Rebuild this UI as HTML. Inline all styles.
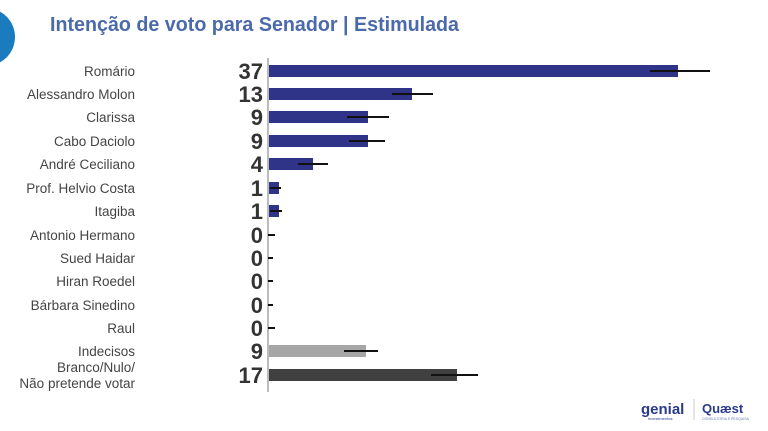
<!DOCTYPE html>
<html><head><meta charset="utf-8"><style>
body{margin:0;background:#fff;width:768px;height:431px;overflow:hidden}
svg{display:block;font-family:"Liberation Sans",sans-serif}
.l{font-size:13.5px;fill:#444;text-anchor:end}
.n{font-size:22px;font-weight:bold;fill:#333;text-anchor:end}
</style></head><body>
<svg width="768" height="431" viewBox="0 0 768 431">
<circle cx="-14" cy="37" r="29" fill="#1a7bbf"/>
<text x="50" y="31" font-size="20" font-weight="bold" fill="#4a6aab" textLength="409" lengthAdjust="spacingAndGlyphs">Intenção de voto para Senador | Estimulada</text>
<line x1="268" y1="58" x2="268" y2="392" stroke="#bbb" stroke-width="2"/>
<g class="l">
<text x="135" y="76">Romário</text>
<text x="135" y="99">Alessandro Molon</text>
<text x="135" y="122">Clarissa</text>
<text x="135" y="146">Cabo Daciolo</text>
<text x="135" y="169">André Ceciliano</text>
<text x="135" y="193">Prof. Helvio Costa</text>
<text x="135" y="216">Itagiba</text>
<text x="135" y="240">Antonio Hermano</text>
<text x="135" y="263">Sued Haidar</text>
<text x="135" y="286">Hiran Roedel</text>
<text x="135" y="310">Bárbara Sinedino</text>
<text x="135" y="333">Raul</text>
<text x="135" y="356">Indecisos</text>
<text x="135" y="372">Branco/Nulo/</text>
<text x="135" y="388">Não pretende votar</text>
</g>
<g class="n">
<text x="263" y="79">37</text><text x="263" y="102">13</text><text x="263" y="125">9</text><text x="263" y="149">9</text><text x="263" y="172">4</text><text x="263" y="196">1</text><text x="263" y="219">1</text><text x="263" y="243">0</text><text x="263" y="266">0</text><text x="263" y="289">0</text><text x="263" y="313">0</text><text x="263" y="336">0</text><text x="263" y="359">9</text><text x="263" y="383">17</text>
</g>
<g fill="#2f3488">
<rect x="269" y="65" width="409" height="12"/>
<rect x="269" y="88" width="143" height="12"/>
<rect x="269" y="111" width="99" height="12"/>
<rect x="269" y="135" width="99" height="12"/>
<rect x="269" y="158" width="44" height="12"/>
<rect x="269" y="182" width="10" height="12"/>
<rect x="269" y="205" width="10" height="12"/>
</g>
<rect x="269" y="345" width="97" height="12" fill="#a6a6a6"/>
<rect x="269" y="369" width="188" height="12" fill="#404040"/>
<g stroke="#111" stroke-width="2">
<line x1="650" y1="71" x2="710" y2="71"/>
<line x1="392" y1="94" x2="433" y2="94"/>
<line x1="347" y1="117" x2="389" y2="117"/>
<line x1="349" y1="141" x2="385" y2="141"/>
<line x1="298" y1="164" x2="328" y2="164"/>
<line x1="270" y1="188" x2="281" y2="188"/>
<line x1="270" y1="211" x2="282" y2="211"/>
<line x1="268" y1="235" x2="275" y2="235"/>
<line x1="268" y1="258" x2="273" y2="258"/>
<line x1="268" y1="281" x2="273" y2="281"/>
<line x1="268" y1="305" x2="273" y2="305"/>
<line x1="268" y1="328" x2="275" y2="328"/>
<line x1="344" y1="351" x2="378" y2="351"/>
<line x1="431" y1="375" x2="478" y2="375"/>
</g>
<text x="641" y="414" font-size="15" font-weight="bold" fill="#2a3a8c">genial</text>
<text x="648" y="420" font-size="4" fill="#2a3a8c">investimentos</text>
<line x1="694" y1="399" x2="694" y2="420" stroke="#ccc"/>
<text x="702" y="413" font-size="13" font-weight="bold" fill="#2a3a8c">Quæst</text>
<text x="702" y="420" font-size="3.5" fill="#6a7ab0">CONSULTORIA E PESQUISA</text>
</svg>
</body></html>
